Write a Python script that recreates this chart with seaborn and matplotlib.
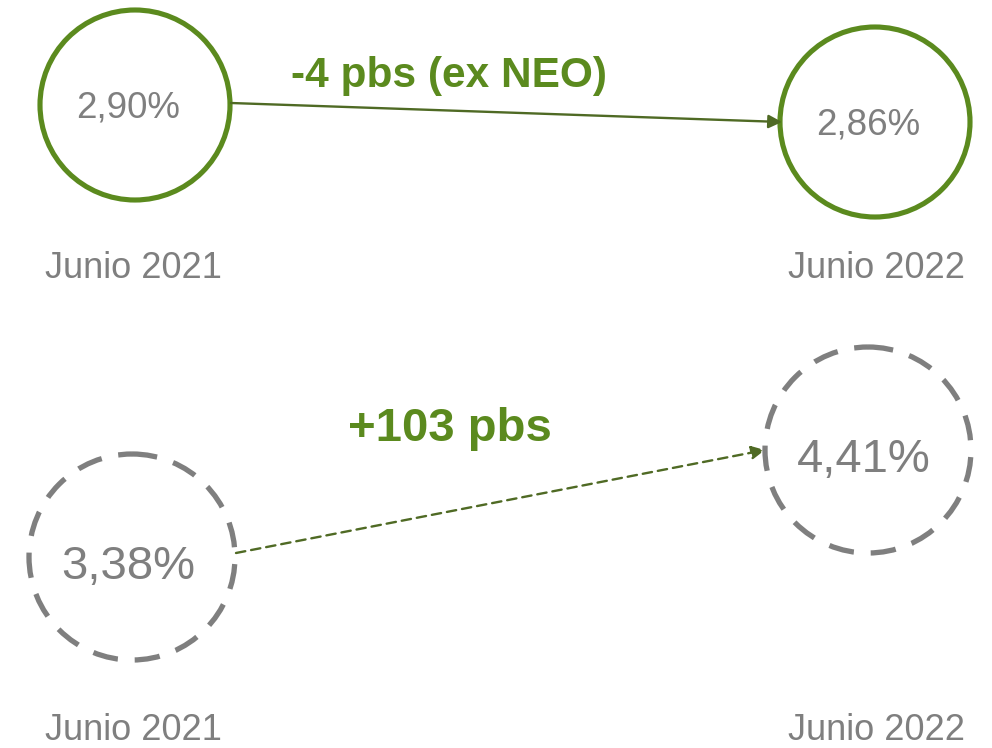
import matplotlib
matplotlib.use("Agg")
import matplotlib.pyplot as plt
from matplotlib.patches import Circle
import seaborn as sns

# data
periods = ["Junio 2021", "Junio 2022"]
top_values = [2.90, 2.86]
bottom_values = [3.38, 4.41]
top_note = "(ex NEO)"

green = "#5b8a1e"
arrow_col = "#4f6a24"
grey = "#7f7f7f"

def fmt(v):
    return f"{v:.2f}".replace(".", ",") + "%"

def bps(a, b):
    d = round((b - a) * 100)
    return f"{d:+d} pbs"

sns.set_theme(style="white")
plt.rcParams["font.family"] = ["Liberation Sans", "DejaVu Sans"]

fig = plt.figure(figsize=(9.92, 7.48), dpi=100)
ax = fig.add_axes([0, 0, 1, 1])
ax.set_xlim(0, 992)
ax.set_ylim(748, 0)
ax.axis("off")

# layout (pixel positions)
top_centers = [(135, 105), (875, 122)]
top_r = 95
bot_centers = [(132, 557), (868, 450)]
bot_r = 103

# top row: solid green circles
for (cx, cy), v in zip(top_centers, top_values):
    ax.add_patch(Circle((cx, cy), top_r, fill=False, ec=green, lw=3.7))
    ax.text(cx - 7, cy + 3, fmt(v), color=grey, fontsize=26.5,
            ha="center", va="center")

# bottom row: dashed grey circles
for (cx, cy), v in zip(bot_centers, bottom_values):
    ax.add_patch(Circle((cx, cy), bot_r, fill=False, ec=grey, lw=3.8,
                        linestyle=(0, (4.8, 3.2))))
    ax.text(cx - 4, cy + 10, fmt(v), color=grey, fontsize=34,
            ha="center", va="center")

# period labels
for y in [268, 731]:
    for x, lab in zip([133, 877], periods):
        ax.text(x, y, lab, color=grey, fontsize=26, ha="center", va="center")

# arrows
ax.annotate("", xy=(782, 122), xytext=(231, 103),
            arrowprops=dict(arrowstyle="-|>", color=arrow_col, lw=1.7,
                            mutation_scale=20, shrinkA=0, shrinkB=0))
ax.annotate("", xy=(765, 450), xytext=(236, 553),
            arrowprops=dict(arrowstyle="-|>", color=arrow_col, lw=1.7,
                            linestyle=(0, (4, 2.5)),
                            mutation_scale=20, shrinkA=0, shrinkB=0))

# change labels
ax.text(449, 76, bps(*top_values) + " " + top_note, color=green, fontsize=30.5,
        fontweight="bold", ha="center", va="center")
ax.text(450, 429, bps(*bottom_values), color=green, fontsize=34,
        fontweight="bold", ha="center", va="center")

fig.savefig("out.png", dpi=100, facecolor="white")
